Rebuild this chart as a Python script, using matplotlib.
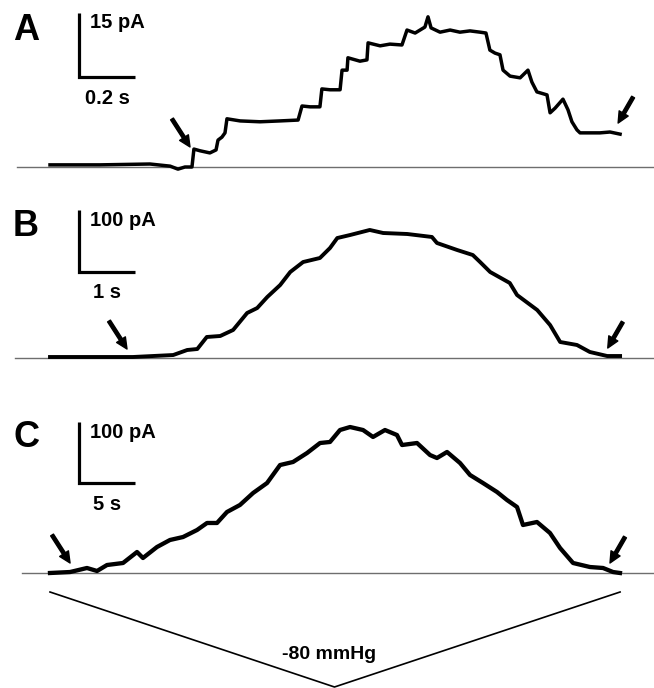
import matplotlib
matplotlib.use("Agg")
import matplotlib.pyplot as plt

W, H, DPI = 654, 688, 100
PX = 72.0 / DPI  # points per pixel

plt.rcParams["font.family"] = ["Liberation Sans", "DejaVu Sans"]
plt.rcParams["font.weight"] = "bold"

# ---- panel A: 0.2 s / 15 pA scale ----
a_t = [0.000, 0.179, 0.357, 0.429, 0.457, 0.482, 0.507, 0.514, 0.536, 0.571,
       0.593, 0.600, 0.614, 0.625, 0.632, 0.679, 0.750, 0.821, 0.886, 0.900,
       0.929, 0.964, 0.971, 1.000, 1.036, 1.043, 1.061, 1.064, 1.107, 1.132,
       1.136, 1.179, 1.214, 1.257, 1.275, 1.304, 1.339, 1.350, 1.361, 1.393,
       1.429, 1.464, 1.500, 1.536, 1.557, 1.571, 1.589, 1.607, 1.618, 1.643,
       1.679, 1.707, 1.721, 1.739, 1.775, 1.786, 1.804, 1.832, 1.850, 1.864,
       1.882, 1.893, 1.929, 1.964, 2.000, 2.036]
a_i = [0.5, 0.5, 0.7, 0.2, -0.5, 0.0, 0.0, 4.2, 3.8, 3.3,
       4.0, 6.3, 7.0, 8.0, 11.3, 10.8, 10.6, 10.8, 11.0, 14.3,
       14.1, 14.1, 18.3, 18.1, 18.1, 22.7, 22.7, 25.6, 24.8, 25.1,
       29.1, 28.4, 28.8, 28.6, 32.1, 31.4, 32.8, 35.2, 32.6, 31.6,
       32.1, 31.6, 31.9, 31.6, 31.4, 27.4, 26.7, 26.3, 22.7, 21.3,
       20.9, 22.7, 19.9, 17.6, 16.9, 12.7, 13.8, 15.9, 13.4, 10.6,
       8.7, 8.0, 8.0, 8.0, 8.2, 7.7]

# ---- panel B: 1 s / 100 pA scale ----
b_t = [0.00, 1.48, 2.20, 2.45, 2.63, 2.80, 3.04, 3.27, 3.52, 3.70,
       3.88, 4.11, 4.29, 4.52, 4.82, 5.00, 5.13, 5.36, 5.71, 5.95,
       6.38, 6.82, 6.91, 7.27, 7.55, 7.68, 7.86, 8.21, 8.34, 8.70,
       8.93, 9.11, 9.41, 9.64, 9.95, 10.18]
b_i = [1.6, 1.6, 4.8, 12.9, 14.5, 33.9, 35.5, 45.2, 72.6, 80.6,
       98.4, 117.7, 138.7, 154.8, 161.3, 177.4, 193.5, 198.4, 206.5, 201.6,
       200.0, 195.2, 185.5, 174.2, 166.1, 154.8, 138.7, 121.0, 101.6, 77.4,
       53.2, 25.8, 21.0, 9.7, 3.2, 3.2]

# ---- panel C: 5 s / 100 pA scale ----
c_t = [0.00, 1.79, 3.30, 4.20, 5.09, 6.52, 7.77, 8.30, 9.55, 10.71,
       11.88, 13.13, 14.02, 14.91, 15.80, 16.96, 18.13, 19.38, 20.54, 21.70,
       22.95, 24.11, 25.00, 25.89, 26.79, 27.95, 28.84, 29.91, 30.98, 31.43,
       32.77, 33.93, 34.55, 35.45, 36.61, 37.50, 38.66, 39.91, 40.80, 41.70,
       42.23, 43.48, 44.64, 45.54, 46.70, 48.21, 49.38, 50.27, 50.89]
c_i = [0.0, 1.6, 8.2, 3.3, 13.1, 16.4, 34.4, 24.6, 42.6, 54.1,
       59.0, 70.5, 82.0, 82.0, 100.0, 111.5, 131.1, 147.5, 177.0, 182.0,
       196.7, 213.1, 214.8, 234.4, 239.3, 234.4, 223.0, 234.4, 226.2, 209.8,
       213.1, 193.4, 188.5, 198.4, 180.3, 160.7, 147.5, 132.8, 119.7, 108.2,
       78.7, 83.6, 65.6, 41.0, 16.4, 9.8, 8.2, 1.6, 0.0]

# pressure ramp (on panel C time base)
p_t = [0.0, 25.4, 50.9]
p_mmhg = [0, -80, 0]

# scale bars: (time length, time label, current length, current label)
scale_a = (0.2, "0.2 s", 15, "15 pA")
scale_b = (1, "1 s", 100, "100 pA")
scale_c = (5, "5 s", 100, "100 pA")

# arrow tips (time, current): channel opening / closing
arrows_a = [(0.500, 4.7), (2.029, 10.3)]
arrows_b = [(1.375, 14.5), (9.96, 16.1)]
arrows_c = [(1.79, 16.4), (50.0, 16.4)]

fig = plt.figure(figsize=(W / DPI, H / DPI), dpi=DPI)
fig.patch.set_facecolor("white")


def panel_axes(top_px, bottom_px, x0_px, y0_px, px_per_t, px_per_y):
    ax = fig.add_axes([0, 1 - bottom_px / H, 1, (bottom_px - top_px) / H])
    ax.set_xlim(-x0_px / px_per_t, (W - x0_px) / px_per_t)
    ax.set_ylim((y0_px - bottom_px) / px_per_y, (y0_px - top_px) / px_per_y)
    ax.axis("off")
    return ax


def scale_bar(ax, corner, scale):
    t_len, t_lab, i_len, i_lab = scale
    ct, ci = corner
    ax.plot([ct, ct, ct + t_len], [ci + i_len, ci, ci], color="black", lw=2.3,
            solid_capstyle="butt", solid_joinstyle="miter")
    ax.annotate(i_lab, xy=(ct, ci + i_len), xytext=(11 * PX, -10 * PX),
                textcoords="offset points", ha="left", va="center",
                fontsize=14.5, fontweight="bold")
    ax.annotate(t_lab, xy=(ct, ci), xytext=(28 * PX, -21 * PX),
                textcoords="offset points", ha="center", va="center",
                fontsize=14.5, fontweight="bold")


def letter(ax, corner, text):
    ax.annotate(text, xy=corner, xytext=(-53 * PX, 46 * PX),
                textcoords="offset points", ha="center", va="center",
                fontsize=26, fontweight="bold")


def add_arrows(ax, tips):
    offsets = [(-18, 28), (15, 26)]
    for (tt, ii), (dx, dy) in zip(tips, offsets):
        ax.annotate("", xy=(tt, ii), xytext=(dx * PX, dy * PX),
                    textcoords="offset points",
                    arrowprops=dict(facecolor="black", edgecolor="black",
                                    width=2.4, headwidth=7.5, headlength=8,
                                    shrink=0), zorder=4)


# ---- A ----
axA = panel_axes(0, 185, 50, 167, 280, 64 / 15)
axA.axhline(0, xmin=17 / W, xmax=1, color="#6e6e6e", lw=1.0, zorder=1)
axA.plot(a_t, a_i, color="black", lw=2.5, solid_joinstyle="round", zorder=3)
cornerA = (29 / 280, 90 / (64 / 15))
scale_bar(axA, cornerA, scale_a)
letter(axA, cornerA, "A")
add_arrows(axA, arrows_a)

# ---- B ----
axB = panel_axes(185, 375, 50, 358, 56, 0.62)
axB.axhline(0, xmin=15 / W, xmax=1, color="#6e6e6e", lw=1.0, zorder=1)
axB.plot(b_t, b_i, color="black", lw=2.8, solid_joinstyle="round", zorder=3)
cornerB = (29 / 56, 86 / 0.62)
scale_bar(axB, cornerB, scale_b)
letter(axB, cornerB, "B")
add_arrows(axB, arrows_b)

# ---- C ----
axC = panel_axes(375, 580, 50, 573, 11.2, 0.61)
axC.axhline(0, xmin=22 / W, xmax=1, color="#6e6e6e", lw=1.0, zorder=1)
axC.plot(c_t, c_i, color="black", lw=3.1, solid_joinstyle="round", zorder=3)
cornerC = (29 / 11.2, 90 / 0.61)
scale_bar(axC, cornerC, scale_c)
letter(axC, cornerC, "C")
add_arrows(axC, arrows_c)

# ---- pressure ramp ----
axP = panel_axes(580, 688, 50, 592, 11.2, 95 / 80)
axP.plot(p_t, p_mmhg, color="black", lw=1.2, clip_on=False)
axP.text(p_t[1] - 0.5, -53, "-80 mmHg", ha="center", va="center",
         fontsize=14, fontweight="bold")

fig.savefig("out.png", dpi=DPI, facecolor="white")
